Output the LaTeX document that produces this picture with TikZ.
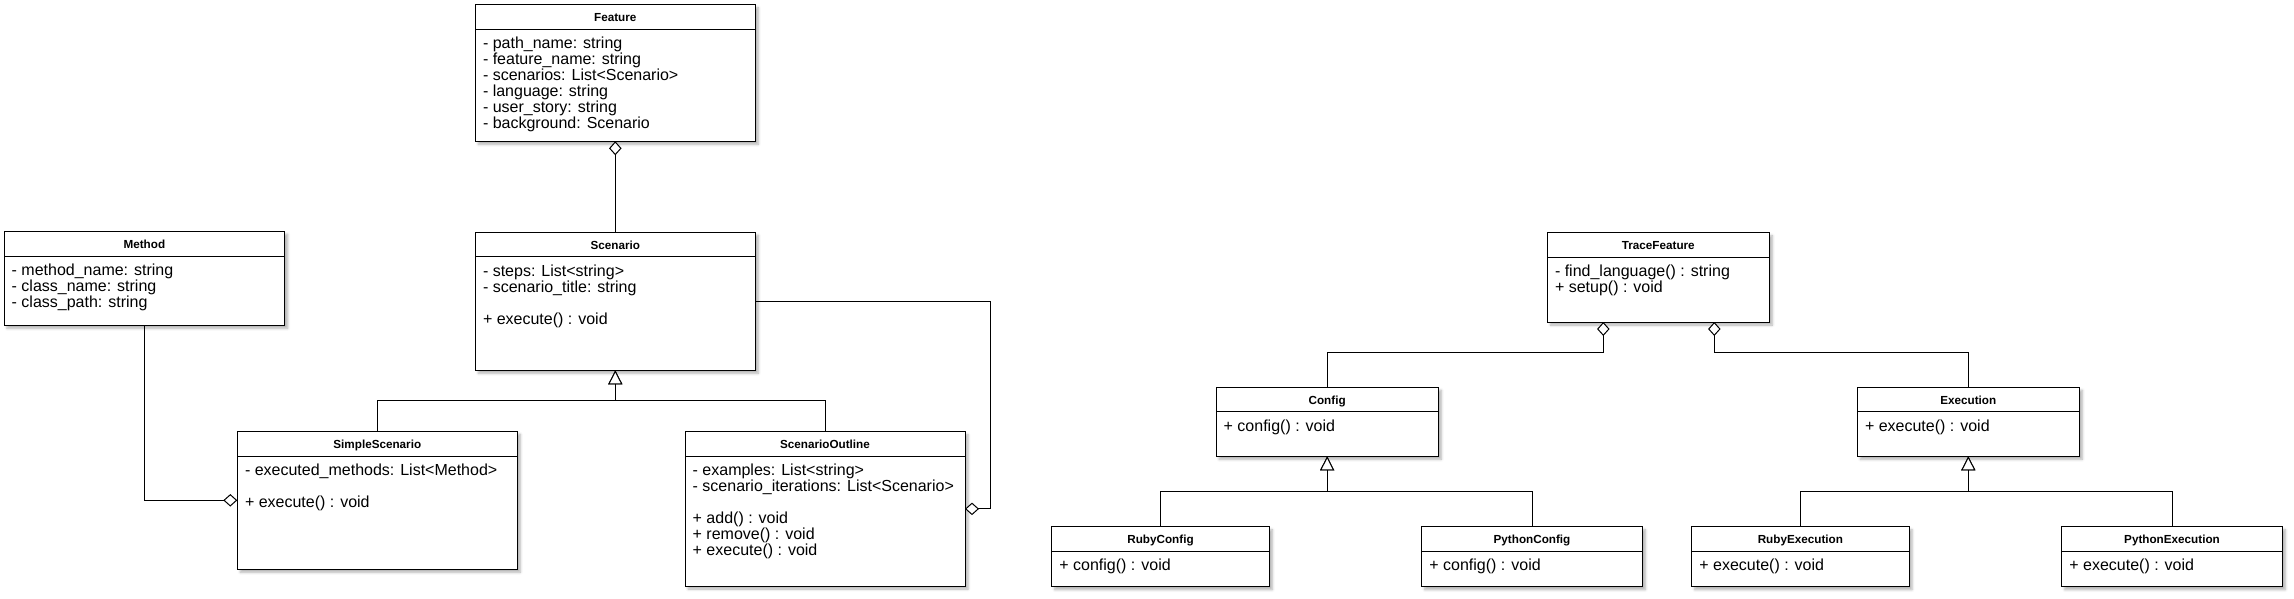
\documentclass[tikz,border=0pt]{standalone}
\usepackage{fontspec}
\setmainfont{Liberation Sans}
\usetikzlibrary{arrows.meta,shadows.blur}
\tikzset{
  box/.style={draw=black, fill=white, line width=1pt, inner sep=0pt, outer sep=0pt, anchor=north west,
    blur shadow={shadow xshift=3pt, shadow yshift=-3pt, shadow blur radius=2.5pt, shadow opacity=30}},
  divider/.style={line width=1pt, draw=black},
  title/.style={font=\bfseries\fontsize{11.7}{12}\selectfont, anchor=base, inner sep=0pt},
  body/.style={font=\fontsize{16}{16}\selectfont, anchor=base west, inner sep=0pt},
  conn/.style={line width=1pt, draw=black},
  agg/.style={conn, -{Diamond[fill=white, length=14pt, width=12.5pt]}},
  inh/.style={conn, -{Triangle[fill=white, length=14pt, width=14pt]}},
}
% #1 name, #2 x1, #3 y1, #4 x2, #5 y2, #6 header y, #7 title, #8 lines text/index
\newcommand{\umlclass}[8]{%
  \node[box, minimum width={(#4-#2)*1pt}, minimum height={(#5-#3)*1pt}] (#1) at (#2,#3) {};
  \draw[divider] (#2,#6) -- (#4,#6);
  \node[title] (#1-t) at ({(#2+#4)/2},{#3+16.8}) {#7};
  \foreach \txt/\k [count=\i] in {#8} {
    \node[body] (#1-l\i) at ({#2+7.5},{#6+19.2+16*\k}) {\txt};
  }
}
\begin{document}
\begin{tikzpicture}[x=1pt,y=-1pt]
\useasboundingbox (0,0) rectangle (2294,598);

\umlclass{feature}{475.3}{4.7}{755.3}{141.3}{29.3}{Feature}{%
  {- path\_name: string}/0, {- feature\_name: string}/1, {- scenarios: List<Scenario>}/2,
  {- language: string}/3, {- user\_story: string}/4, {- background: Scenario}/5}
\umlclass{method}{4}{231.3}{284.7}{325.3}{256}{Method}{%
  {- method\_name: string}/0, {- class\_name: string}/1, {- class\_path: string}/2}
\umlclass{scenario}{475.3}{232.3}{755.3}{370.3}{256.8}{Scenario}{%
  {- steps: List<string>}/0, {- scenario\_title: string}/1, {+ execute() : void}/3}
\umlclass{simple}{237.3}{431.3}{517.3}{569.3}{456.3}{SimpleScenario}{%
  {- executed\_methods: List<Method>}/0, {+ execute() : void}/2}
\umlclass{outline}{685}{431.7}{965}{586}{456.3}{ScenarioOutline}{%
  {- examples: List<string>}/0, {- scenario\_iterations: List<Scenario>}/1,
  {+ add() : void}/3, {+ remove() : void}/4, {+ execute() : void}/5}
\umlclass{trace}{1547.3}{232.7}{1769.3}{322}{257.3}{TraceFeature}{%
  {- find\_language() : string}/0, {+ setup() : void}/1}
\umlclass{config}{1216}{387.3}{1438.3}{456.3}{411.8}{Config}{{+ config() : void}/0}
\umlclass{execution}{1857.3}{387.3}{2079.3}{456.3}{411.8}{Execution}{{+ execute() : void}/0}
\umlclass{rubyconfig}{1051.7}{526.7}{1269.3}{586.7}{551}{RubyConfig}{{+ config() : void}/0}
\umlclass{pythonconfig}{1421.7}{526.7}{1642.3}{586.7}{551}{PythonConfig}{{+ config() : void}/0}
\umlclass{rubyexec}{1691.7}{526.7}{1909}{586.7}{551}{RubyExecution}{{+ execute() : void}/0}
\umlclass{pythonexec}{2061.7}{526.7}{2282.3}{586.7}{551}{PythonExecution}{{+ execute() : void}/0}

% aggregations
\draw[agg] (scenario.north) -- (feature.south);
\draw[agg] (method.south) |- (simple.west);
\coordinate (xa) at (990,0);
\draw[agg] (scenario.east) -- (scenario.east -| xa) -- (outline.east -| xa) -- (outline.east);
\coordinate (ja) at (1603.3,352);
\coordinate (jb) at (1714.3,352);
\draw[agg] (config.north) |- (ja) -- (ja |- trace.south);
\draw[agg] (execution.north) |- (jb) -- (jb |- trace.south);

% inheritance
\coordinate (j1) at (615.3,400.7);
\draw[inh] (simple.north) |- (j1) -- (scenario.south);
\draw[inh] (outline.north) |- (j1) -- (scenario.south);
\coordinate (j2) at (1327.15,491.3);
\draw[inh] (rubyconfig.north) |- (j2) -- (config.south);
\draw[inh] (pythonconfig.north) |- (j2) -- (config.south);
\coordinate (j3) at (1968.3,491.3);
\draw[inh] (rubyexec.north) |- (j3) -- (execution.south);
\draw[inh] (pythonexec.north) |- (j3) -- (execution.south);
\end{tikzpicture}
\end{document}
